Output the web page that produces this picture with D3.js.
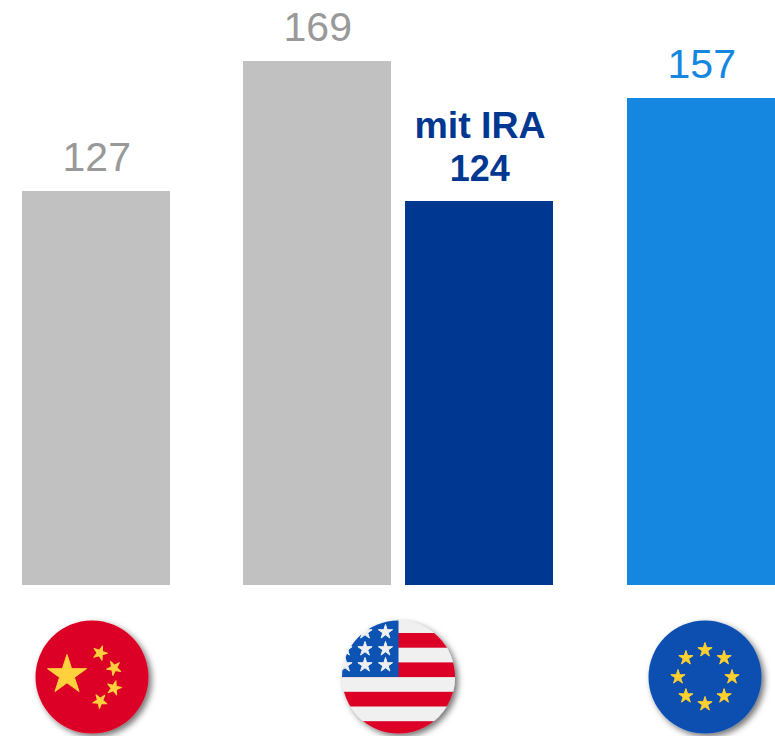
<!DOCTYPE html>
<html>
<head>
<meta charset="utf-8">
<script src="https://cdn.jsdelivr.net/npm/d3@7"></script>
<style>
    html, body { margin: 0; padding: 0; background: #fff; overflow: hidden; }
    svg { display: block; font-family: "Liberation Sans", Arial, sans-serif; }
</style>
</head>
<body>
<div class="graph-container"></div>
<script>
    // chart data
    const regions = ['China', 'USA', 'EU'];
    const seriesRegion = ['China', 'USA', 'USA', 'EU'];
    const seriesKey = ['base', 'base', 'ira', 'base'];
    const seriesValue = [127, 169, 124, 157];
    const seriesNote = ['', '', 'mit IRA', ''];

    // graph constants
    const w = 775;
    const h = 736;
    const baseline = 585;
    const barWidth = 148;
    const barGap = 14;
    const flagR = 56.5;
    const flagY = 677;
    const colors = { base: '#C1C1C1', ira: '#003791', eu: '#1587E0' };
    const labelColors = { base: '#999999', ira: '#003791', eu: '#1587E0' };

    const svg = d3.select('div.graph-container')
        .append('svg')
        .attr('width', w)
        .attr('height', h)
        .attr('viewBox', `0 0 ${w} ${h}`);

    // a value scale with no axis, the chart only has labels
    const yScale = d3.scaleLinear()
        .domain([0, 169])
        .range([baseline, 61.1]);
    // one band per region...
    const xScale = d3.scaleBand()
        .domain(regions)
        .range([-55.2, 852])
        .paddingInner(0)
        .paddingOuter(0);
    // ...flags sit a bit wider apart than the bars
    const flagScale = d3.scalePoint()
        .domain(regions)
        .range([92, 705]);

    const rows = seriesValue.map((value, i) => {
        const region = seriesRegion[i];
        const siblings = seriesRegion.filter(r => r === region).length;
        const index = seriesRegion.slice(0, i).filter(r => r === region).length;
        const groupW = siblings * barWidth + (siblings - 1) * barGap;
        const x = Math.round(xScale(region) + xScale.bandwidth() / 2 - groupW / 2 + index * (barWidth + barGap));
        const tone = region === 'EU' ? 'eu' : seriesKey[i];
        return { region, value, note: seriesNote[i], x, tone, top: Math.round(yScale(value)) };
    });

    // bars
    svg.selectAll('rect.bar')
        .data(rows)
        .enter()
        .append('rect')
        .attr('class', 'bar')
        .attr('x', d => d.x)
        .attr('y', d => d.top)
        .attr('width', barWidth)
        .attr('height', d => baseline - d.top)
        .attr('fill', d => colors[d.tone]);

    // value labels
    svg.selectAll('text.value')
        .data(rows)
        .enter()
        .append('text')
        .attr('class', 'value')
        .attr('x', d => d.x + barWidth / 2 + 0.75)
        .attr('y', d => d.top - (d.note ? 20 : 20.5))
        .attr('text-anchor', 'middle')
        .attr('font-size', d => d.note ? 36 : 41)
        .attr('font-weight', d => d.note ? 700 : 400)
        .attr('fill', d => labelColors[d.tone])
        .text(d => d.value);

    // the note above the IRA value
    svg.selectAll('text.note')
        .data(rows.filter(d => d.note))
        .enter()
        .append('text')
        .attr('class', 'note')
        .attr('x', d => d.x + barWidth / 2 + 1)
        .attr('y', d => d.top - 63)
        .attr('text-anchor', 'middle')
        .attr('font-size', 37.5)
        .attr('font-weight', 700)
        .attr('fill', d => labelColors[d.tone])
        .text(d => d.note);

    // flags
    const defs = svg.append('defs');
    const shadow = defs.append('filter')
        .attr('id', 'flag-shadow')
        .attr('x', '-20%').attr('y', '-20%')
        .attr('width', '140%').attr('height', '140%');
    shadow.append('feDropShadow')
        .attr('dx', 3).attr('dy', 3)
        .attr('stdDeviation', 3)
        .attr('flood-color', '#000')
        .attr('flood-opacity', 0.55);
    // the flags in the original are small blurry bitmaps
    defs.append('filter')
        .attr('id', 'flag-soft')
        .append('feGaussianBlur')
        .attr('stdDeviation', 0.5);
    defs.append('clipPath')
        .attr('id', 'flag-clip')
        .append('circle')
        .attr('r', flagR);

    // d3 star symbol takes an area, convert from the outer radius
    const star = R => d3.symbol().type(d3.symbolStar).size(R * R / 0.8908)();
    const addStar = (g, x, y, R, fill, rotate = 0) => g.append('path')
        .attr('d', star(R))
        .attr('transform', `translate(${x}, ${y}) rotate(${rotate})`)
        .attr('fill', fill)
        .attr('stroke', fill)
        .attr('stroke-width', 1)
        .attr('stroke-linejoin', 'round');

    const flag = svg.selectAll('g.flag')
        .data(regions)
        .enter()
        .append('g')
        .attr('class', 'flag')
        .attr('transform', d => `translate(${flagScale(d)}, ${flagY})`)
        .attr('filter', 'url(#flag-shadow)')
        .append('g')
        .attr('clip-path', 'url(#flag-clip)')
        .append('g')
        .attr('filter', 'url(#flag-soft)');

    const drawChina = g => {
        const yellow = '#FFD23C';
        g.append('circle').attr('r', flagR + 2).attr('fill', '#DC0028');
        addStar(g, -25, -2, 20.5, yellow);
        addStar(g, 8, -24, 7.5, yellow, 20);
        addStar(g, 22, -9, 7.5, yellow, 45);
        addStar(g, 22, 11, 7.5, yellow, 15);
        addStar(g, 8, 24, 7.5, yellow, 40);
    };

    const drawUsa = g => {
        const stripeH = 14.7;
        g.append('circle').attr('r', flagR + 2).attr('fill', '#F0F0F0');
        d3.range(4).forEach(i => {
            g.append('rect')
                .attr('x', -flagR - 2)
                .attr('y', -44 + i * 2 * stripeH)
                .attr('width', flagR * 2 + 4)
                .attr('height', stripeH)
                .attr('fill', '#DC0028');
        });
        g.append('rect')
            .attr('x', -flagR - 2).attr('y', -flagR - 2)
            .attr('width', flagR + 2).attr('height', flagR + 2)
            .attr('fill', '#0A52B4');
        [-13, -33.5, -53.5].forEach(x => {
            [-45, -28, -12].forEach(y => addStar(g, x, y, 7.5, '#F0F0F0'));
        });
    };

    const drawEu = g => {
        g.append('circle').attr('r', flagR + 2).attr('fill', '#0B4FB0');
        d3.range(8).forEach(i => {
            const a = i * Math.PI / 4;
            addStar(g, 27 * Math.sin(a), -27 * Math.cos(a), 7.5, '#FFD02F');
        });
    };

    flag.filter(d => d === 'China').call(drawChina);
    flag.filter(d => d === 'USA').call(drawUsa);
    flag.filter(d => d === 'EU').call(drawEu);
</script>
</body>
</html>
